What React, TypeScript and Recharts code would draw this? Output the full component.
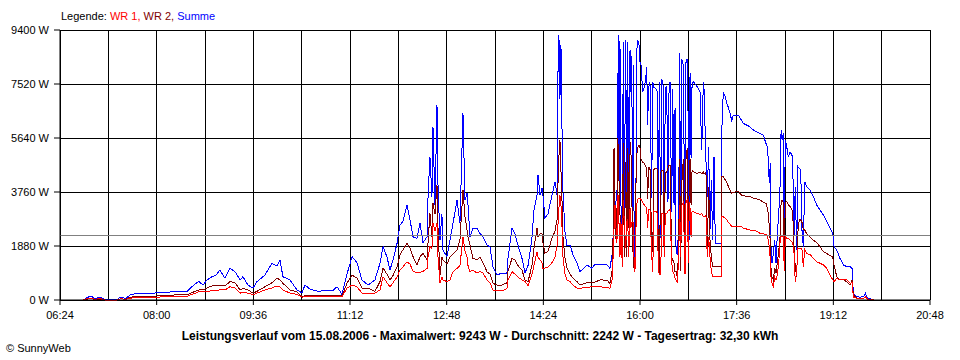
import React from 'react';
import { LineChart, Line, XAxis, YAxis, CartesianGrid, ReferenceLine } from 'recharts';

// Uhrzeit in Minuten seit Mitternacht
const minutes = [
  406.8, 412.8, 415.8, 418.8, 421.7, 424.7, 428.7, 440.6, 443.6, 449.5, 453.5, 460.5, 470.4, 480.3, 488.3, 500.2,
  510.1, 513.1, 518.1, 522.0, 526.0, 530.0, 534.9, 538.9, 542.9, 547.8, 552.8, 557.8, 562.8, 565.7, 570.7, 575.7,
  579.6, 587.6, 594.5, 599.5, 602.5, 605.4, 612.4, 619.3, 624.3, 627.3, 632.3, 640.2, 647.2, 655.1, 659.1, 664.0,
  669.0, 674.0, 678.9, 683.9, 689.9, 696.8, 701.8, 704.8, 708.7, 711.7, 714.7, 718.7, 721.6, 724.6, 728.6, 731.6,
  734.6, 738.5, 741.5, 744.5, 748.5, 749.5, 751.4, 753.4, 754.4, 756.4, 758.4, 759.4, 761.4, 763.3, 764.3, 768.3,
  771.3, 774.3, 778.3, 781.2, 784.2, 786.2, 788.2, 789.2, 791.2, 794.1, 798.1, 801.1, 804.1, 808.0, 811.0, 814.0,
  818.0, 822.9, 827.9, 828.9, 832.9, 835.8, 838.8, 842.8, 845.8, 848.8, 852.7, 854.7, 857.7, 858.7, 860.7, 862.7,
  863.6, 865.6, 868.6, 872.6, 875.6, 877.6, 878.5, 879.5, 880.5, 881.5, 882.5, 883.5, 885.5, 887.5, 890.5, 893.5,
  897.4, 900.4, 907.4, 912.3, 915.3, 920.3, 927.2, 930.2, 932.2, 933.2, 934.2, 935.2, 936.2, 937.1, 938.1, 938.5,
  939.4, 940.1, 941.1, 942.4, 943.4, 944.4, 945.8, 946.8, 947.8, 948.8, 950.1, 950.8, 951.8, 952.7, 953.3, 954.3,
  955.0, 956.0, 956.7, 957.7, 959.0, 960.0, 961.0, 962.7, 964.3, 965.7, 966.7, 967.6, 968.6, 969.9, 971.6, 972.6,
  973.9, 975.9, 977.2, 978.2, 979.2, 980.6, 981.6, 983.1, 984.1, 985.1, 986.5, 987.8, 988.8, 989.8, 991.5, 992.5,
  993.8, 994.8, 995.8, 997.0, 998.4, 999.4, 1000.4, 1001.4, 1003.0, 1004.7, 1005.7, 1007.0, 1008.0, 1009.0, 1009.7, 1010.7,
  1011.7, 1013.0, 1016.3, 1019.6, 1021.3, 1022.9, 1023.5, 1025.5, 1026.8, 1028.2, 1029.5, 1030.8, 1032.2, 1033.5, 1034.8, 1040.8,
  1041.4, 1042.7, 1044.4, 1046.1, 1047.8, 1049.4, 1051.1, 1052.7, 1057.6, 1061.0, 1062.6, 1065.9, 1069.2, 1072.5, 1075.8, 1079.2,
  1082.5, 1085.1, 1086.4, 1087.4, 1088.4, 1089.4, 1090.1, 1091.1, 1092.4, 1093.8, 1095.1, 1096.4, 1097.8, 1099.4, 1100.1, 1101.1,
  1102.4, 1103.3, 1104.3, 1105.7, 1107.3, 1109.0, 1111.6, 1112.9, 1114.2, 1115.6, 1116.9, 1118.2, 1119.6, 1120.9, 1122.2, 1123.6,
  1125.6, 1128.9, 1132.2, 1135.5, 1138.8, 1142.1, 1145.5, 1148.7, 1151.4, 1152.7, 1155.4, 1158.6, 1162.0, 1165.3, 1168.6, 1170.6,
  1171.9, 1175.3, 1178.6, 1181.9, 1183.9, 1185.9, 1190.3, 1192.6,
];

// Leistung in W
const summe = [
  0, 115, 115, 30, 80, 80, 10, 10, 90, 60, 175, 230, 210, 250, 270, 290,
  300, 400, 560, 640, 520, 700, 810, 870, 1040, 760, 1110, 985, 700, 810, 520, 415,
  640, 870, 1280, 1180, 1390, 810, 700, 350, 250, 520, 380, 300, 330, 330, 460, 200,
  900, 1510, 1300, 700, 520, 700, 1280, 1860, 1500, 1045, 1390, 1970, 2610, 2730, 3310, 2790,
  2200, 2150, 2670, 2000, 2200, 3600, 4990, 3600, 6030, 3300, 6790, 4000, 2090, 3000, 1740, 1510,
  2090, 2670, 3480, 2670, 6500, 3480, 3710, 3300, 2200, 2500, 2500, 2320, 2200, 1910, 1850, 1160,
  870, 940, 940, 1450, 2500, 2300, 1910, 1450, 940, 1200, 2150, 3130, 3650, 4350, 3650, 3900,
  3650, 2850, 3000, 3650, 4120, 3650, 7830, 9230, 7000, 8880, 6090, 3770, 2380, 1900, 1910, 1570,
  1300, 985, 1220, 1100, 1250, 1220, 1220, 1100, 1570, 2150, 2700, 3310, 3450, 3540, 7600, 9230,
  3480, 9000, 3310, 2090, 8990, 3000, 9050, 3400, 8990, 2500, 8700, 7250, 8500, 2500, 8180, 1450,
  1000, 4000, 8650, 9050, 8880, 8300, 8180, 7250, 7400, 7700, 8120, 6090, 7400, 7600, 3540, 7600,
  7400, 7350, 7250, 2260, 7600, 2150, 7700, 7450, 2610, 7350, 7450, 3420, 7200, 7600, 3070, 7350,
  3310, 6700, 1680, 1570, 2500, 8600, 1450, 8400, 8180, 1570, 8300, 8400, 5740, 2100, 7900, 4940,
  7500, 7600, 7450, 7250, 5220, 7600, 7430, 4870, 3600, 5340, 2440, 4180, 2090, 4990, 1970, 1970,
  6030, 7220, 7100, 6850, 6700, 6500, 6250, 6440, 6440, 6250, 6150, 6090, 6030, 5920, 5860, 5800,
  5740, 5450, 5340, 4870, 4060, 4760, 1860, 1280, 1620, 2090, 1280, 2320, 3010, 4180, 5920, 5570,
  5800, 2200, 5570, 5340, 4990, 5160, 4990, 2200, 3950, 1740, 4640, 4580, 4530, 2400, 1860, 4120,
  3950, 3830, 3600, 3310, 3130, 2960, 2730, 2500, 2320, 1860, 1740, 1450, 1220, 1160, 1160, 1100,
  230, 120, 100, 120, 230, 60, 30, 0,
];

const wr2 = [
  0, 40, 50, 0, 30, 30, 0, 0, 40, 30, 90, 135, 130, 140, 170, 175,
  180, 230, 300, 350, 350, 420, 490, 490, 490, 490, 640, 600, 350, 400, 350, 240,
  300, 460, 600, 760, 700, 580, 350, 280, 120, 150, 140, 140, 150, 150, 160, 140,
  580, 870, 760, 410, 410, 300, 640, 1110, 900, 700, 850, 1160, 1570, 1750, 1970, 1800,
  1510, 1220, 1500, 1630, 1400, 2000, 3020, 2200, 3370, 3000, 4000, 2500, 870, 1500, 1400, 1250,
  1500, 1600, 1740, 2100, 3830, 2900, 2440, 2200, 1900, 1450, 1400, 1500, 1300, 985, 900, 580,
  520, 520, 600, 1000, 1450, 1400, 1200, 1040, 700, 640, 1200, 1800, 2500, 2200, 2300, 2300,
  2000, 1630, 1700, 2150, 2400, 2800, 4000, 5000, 5570, 4500, 3500, 2200, 1450, 1100, 900, 760,
  640, 520, 600, 600, 620, 700, 690, 580, 1000, 2090, 5290, 3000, 2100, 3000, 5640, 4500,
  4000, 3000, 2200, 1500, 5460, 1500, 4800, 1500, 5300, 2500, 5100, 5500, 3800, 2000, 1450, 1000,
  1100, 4000, 5000, 5300, 5400, 5300, 4900, 4800, 4750, 4650, 4600, 3500, 4600, 4600, 2100, 1680,
  4550, 4600, 4550, 1500, 870, 4450, 4500, 4500, 1800, 4450, 4450, 4600, 4700, 4700, 1500, 1400,
  1300, 985, 1000, 800, 1700, 4900, 1000, 4000, 4900, 1200, 4940, 5300, 1800, 4500, 4900, 3300,
  4500, 4470, 4400, 4450, 4400, 4450, 4400, 4450, 1630, 3950, 2090, 1500, 1160, 1160, 1160, 1160,
  4290, 4290, 4200, 4100, 3950, 3830, 3710, 3750, 3780, 3650, 3640, 3600, 3600, 3540, 3520, 3480,
  3400, 3370, 3200, 3020, 2550, 2000, 1100, 810, 700, 1100, 930, 1300, 1700, 2320, 3400, 3480,
  3400, 1500, 3400, 3420, 3310, 3250, 3100, 1860, 1160, 810, 2400, 2800, 2790, 2700, 2440, 2440,
  2300, 2200, 2080, 2000, 1850, 1680, 1620, 1550, 1500, 1220, 810, 700, 700, 640, 520, 700,
  175, 60, 60, 60, 120, 30, 10, 0,
];

const wr1 = [
  0, 60, 60, 20, 40, 40, 0, 0, 40, 30, 60, 90, 80, 100, 110, 115,
  120, 175, 230, 290, 290, 300, 320, 340, 350, 350, 460, 420, 240, 260, 240, 180,
  240, 350, 420, 490, 450, 350, 240, 200, 100, 115, 115, 115, 115, 120, 130, 115,
  410, 520, 460, 240, 240, 240, 350, 810, 600, 460, 600, 800, 1040, 1150, 1330, 1250,
  1000, 940, 960, 1000, 1100, 1500, 1860, 1800, 2670, 2400, 2670, 1500, 580, 800, 700, 640,
  700, 985, 1100, 1200, 2200, 1700, 1500, 1200, 985, 1040, 940, 985, 940, 700, 600, 350,
  330, 320, 400, 700, 985, 900, 800, 700, 640, 500, 900, 1200, 1680, 1500, 1400, 1300,
  1100, 1110, 1150, 1300, 1500, 1900, 2610, 3200, 3650, 3300, 2600, 1500, 900, 700, 640, 520,
  410, 410, 440, 460, 460, 460, 430, 410, 700, 1400, 2500, 3310, 2500, 2000, 3650, 3650,
  2300, 1500, 2700, 1160, 3480, 2700, 1800, 2700, 2800, 1500, 3200, 2500, 2700, 2700, 2700, 1100,
  985, 2500, 3300, 3500, 3540, 3540, 3500, 3400, 3300, 3250, 3200, 2500, 3150, 3150, 1600, 985,
  3100, 3080, 3020, 1100, 870, 900, 3020, 3000, 1500, 3000, 3020, 3100, 3100, 3150, 1300, 1000,
  900, 760, 700, 600, 1400, 3300, 1500, 3300, 3400, 900, 3400, 3500, 1300, 3400, 3200, 2200,
  3100, 3080, 3020, 2980, 3000, 2900, 2900, 2950, 1510, 2200, 1500, 1000, 810, 810, 810, 810,
  2900, 2900, 2850, 2800, 2700, 2650, 2550, 2550, 2550, 2550, 2500, 2470, 2440, 2420, 2400, 2320,
  2300, 2280, 2200, 2090, 1860, 1400, 800, 580, 480, 800, 700, 900, 1300, 2200, 2200, 2200,
  2200, 1000, 2200, 2150, 2150, 2090, 2000, 1700, 640, 1000, 1800, 1800, 1800, 1750, 1160, 1750,
  1620, 1580, 1450, 1330, 1280, 1220, 1100, 870, 700, 640, 760, 700, 720, 700, 580, 600,
  100, 60, 40, 50, 100, 30, 10, 0,
];

const yTicks = [0, 1880, 3760, 5640, 7520, 9400];
const xLabelTicks = [384, 480, 576, 672, 768, 864, 960, 1056, 1152, 1248];
const xMidTicks = [432, 528, 624, 720, 816, 912, 1008, 1104, 1200];
const durchschnitt = 2242;

const data = minutes.map((t, i) => ({ t, summe: summe[i], wr2: wr2[i], wr1: wr1[i] }));

const fmtTime = (v: number) => {
  const h = Math.floor(v / 60);
  const m = Math.round(v % 60);
  return `${String(h).padStart(2, '0')}:${String(m).padStart(2, '0')}`;
};

const font = '"Liberation Sans", Arial, sans-serif';

export default function App() {
  return (
    <div style={{ position: 'absolute', left: 0, top: 0, width: 960, height: 360, background: '#fff', fontFamily: font }}>
      <div style={{ position: 'absolute', left: 61, top: 10, fontSize: 11, lineHeight: '12px', whiteSpace: 'nowrap' }}>
        <span style={{ color: '#000' }}>Legende: </span>
        <span style={{ color: '#ff0000' }}>WR 1, </span>
        <span style={{ color: '#800000' }}>WR 2, </span>
        <span style={{ color: '#0000ff' }}>Summe</span>
      </div>

      <LineChart
        width={960}
        height={360}
        data={data}
        margin={{ top: 30, right: 30, bottom: 30, left: 0 }}
        style={{ fontFamily: font }}
      >
        <CartesianGrid stroke="#000" strokeWidth={1} shapeRendering="crispEdges" />
        <XAxis
          dataKey="t"
          type="number"
          domain={[384, 1248]}
          ticks={xLabelTicks}
          tickFormatter={fmtTime}
          height={30}
          stroke="#000"
          tickSize={5}
          tickMargin={6}
          tick={{ fill: '#000', fontSize: 11 }}
          interval={0}
        />
        <YAxis
          domain={[0, 9400]}
          ticks={yTicks}
          tickFormatter={(v: number) => `${v} W`}
          width={60}
          stroke="#000"
          tickSize={6}
          tickMargin={5}
          tick={{ fill: '#000', fontSize: 11 }}
          interval={0}
        />
        {xMidTicks.map((x) => (
          <ReferenceLine key={x} x={x} stroke="#000" strokeWidth={1} shapeRendering="crispEdges" />
        ))}
        <Line dataKey="summe" name="Summe" stroke="#0000ff" strokeWidth={1} dot={false} isAnimationActive={false} shapeRendering="crispEdges" />
        <Line dataKey="wr2" name="WR 2" stroke="#800000" strokeWidth={1} dot={false} isAnimationActive={false} shapeRendering="crispEdges" />
        <Line dataKey="wr1" name="WR 1" stroke="#ff0000" strokeWidth={1} dot={false} isAnimationActive={false} shapeRendering="crispEdges" />
        <ReferenceLine y={durchschnitt} stroke="#808080" strokeWidth={1} shapeRendering="crispEdges" />
      </LineChart>

      <div style={{ position: 'absolute', left: 0, top: 330, width: 960, textAlign: 'center', fontSize: 12, lineHeight: '12px', fontWeight: 'bold' }}>
        Leistungsverlauf vom 15.08.2006 - Maximalwert: 9243 W - Durchschnitt: 2242 W - Tagesertrag: 32,30 kWh
      </div>
      <div style={{ position: 'absolute', left: 6, top: 342, fontSize: 11, lineHeight: '12px' }}>
        © SunnyWeb
      </div>
    </div>
  );
}
